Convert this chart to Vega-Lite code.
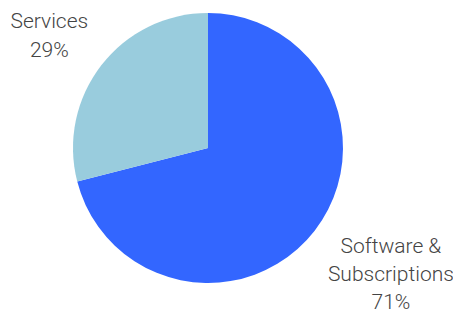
{
  "$schema": "https://vega.github.io/schema/vega-lite/v6.json",
  "autosize": "none",
  "padding": {"left": 0, "top": 0, "right": 37, "bottom": 20},
  "width": 416,
  "height": 296,
  "background": "white",
  "data": {
    "values": [
      {"category": "Software & Subscriptions", "share": 71, "label": "Software &|Subscriptions|71%", "order": 1},
      {"category": "Services", "share": 29, "label": "Services|29%", "order": 2}
    ]
  },
  "encoding": {
    "theta": {"field": "share", "type": "quantitative", "stack": true},
    "order": {"field": "order", "type": "quantitative"}
  },
  "layer": [
    {
      "mark": {"type": "arc", "radius": 135},
      "encoding": {
        "color": {
          "field": "category",
          "type": "nominal",
          "scale": {"domain": ["Software & Subscriptions", "Services"], "range": ["#3366FF", "#99CCDD"]},
          "legend": null
        }
      }
    },
    {
      "mark": {"type": "text", "radius": 197, "dx": -3, "dy": -5, "lineBreak": "|", "fontSize": 21, "fontWeight": 300, "font": "Roboto, sans-serif", "color": "#444444", "lineHeight": 29, "align": "center", "baseline": "middle"},
      "encoding": {"text": {"condition": {"test": "datum.category === 'Services'", "field": "label"}, "value": ""}}
    },
    {
      "mark": {"type": "text", "radius": 215, "dx": 13, "dy": -33, "lineBreak": "|", "fontSize": 21, "fontWeight": 300, "font": "Roboto, sans-serif", "color": "#444444", "lineHeight": 28, "align": "center", "baseline": "middle"},
      "encoding": {"text": {"condition": {"test": "datum.category !== 'Services'", "field": "label"}, "value": ""}}
    }
  ]
}
